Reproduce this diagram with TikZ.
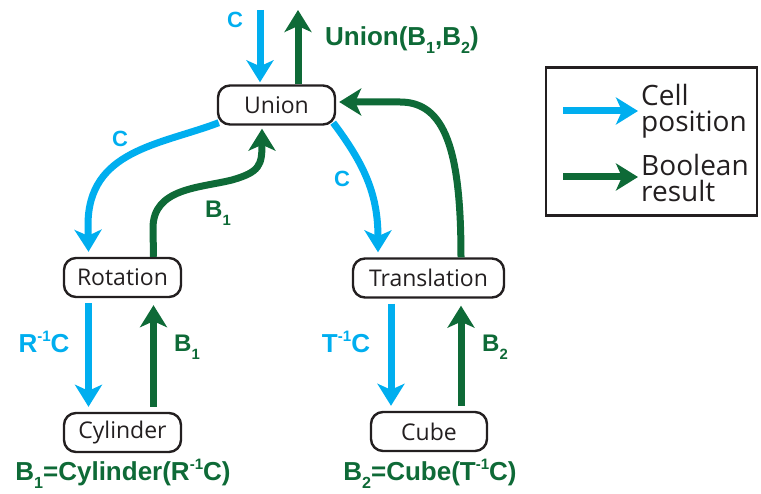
\documentclass[tikz,border=0pt]{standalone}
\usepackage{fontspec}
\setmainfont{Liberation Sans}
\newfontfamily\nodefont{Open Sans}
\usetikzlibrary{arrows.meta}
\definecolor{cellblue}{HTML}{00AEEF}
\definecolor{boolgreen}{HTML}{0E6A37}
\definecolor{ink}{HTML}{231F20}
\newcommand{\lowidx}[1]{\raisebox{-0.32em}{\scalebox{0.62}{#1}}}
\newcommand{\highidx}[1]{\raisebox{0.42em}{\scalebox{0.58}{#1}}}
\tikzset{
  box/.style={draw=ink, line width=2.4pt, rounded corners=12pt, minimum height=39pt, inner sep=0pt, text=ink, font=\nodefont\fontsize{23}{25}\selectfont},
  flow/.style={line width=7pt, -{Stealth[length=22pt,width=27pt,inset=6pt]}},
  cflow/.style={flow, draw=cellblue},
  bflow/.style={flow, draw=boolgreen},
  clabel/.style={text=cellblue, font=\bfseries\fontsize{22}{24}\selectfont, inner sep=0pt},
  blabel/.style={text=boolgreen, font=\bfseries\fontsize{24}{26}\selectfont, inner sep=0pt},
  biglabel/.style={font=\bfseries\fontsize{26}{28}\selectfont, inner sep=0pt},
  legtext/.style={text=ink, font=\nodefont\fontsize{28}{25.5}\selectfont, align=left, anchor=west, inner sep=0pt}
}
\begin{document}
\begin{tikzpicture}[x=1pt,y=-1pt]
\useasboundingbox (0,0) rectangle (761,494);
% nodes
\node[box, minimum width=117pt] (Union) at (276.5,105) {Union};
\node[box, minimum width=117pt] (Rotation) at (122.5,277.5) {Rotation};
\node[box, minimum width=151pt] (Translation) at (428.5,278) {Translation};
\node[box, minimum width=117pt] (Cylinder) at (122.5,432.5) {Cylinder};
\node[box, minimum width=116pt] (Cube) at (429,431.5) {Cube};
% top
\coordinate (topin) at (260,10);
\coordinate (topout) at (298,10);
\draw[cflow] (topin) -- ([yshift=2pt]Union.north -| topin);
\draw[bflow] (Union.north -| topout) -- (topout);
\node[clabel] (lc0) at (235,20) {C};
\node[biglabel, text=boolgreen] (lu) at (402,40) {Union(B\lowidx{1},B\lowidx{2})};
% Union -> Rotation
\draw[cflow] ([xshift=2pt,yshift=3pt]Union.south west) .. controls (160,145) and (88,150) .. (88,225) -- ([xshift=-34pt,yshift=5pt]Rotation.north);
\node[clabel] (lc1) at (120,139) {C};
% Rotation -> Union
\draw[bflow] ([xshift=31pt]Rotation.north) -- (153,228) .. controls (153,188) and (200,188) .. (232,180) .. controls (260,172) and (262,165) .. ([xshift=-14.5pt,yshift=-3pt]Union.south);
\node[blabel] (lb1) at (218,213) {B\lowidx{1}};
% Union -> Translation
\draw[cflow] ([xshift=-3pt,yshift=3pt]Union.south east) .. controls (365,165) and (378,195) .. ([xshift=-50.5pt,yshift=5pt]Translation.north);
\node[clabel] (lc2) at (342,179) {C};
% Translation -> Union
\draw[bflow] ([xshift=32.5pt]Translation.north) .. controls (461,150) and (445,102) .. (400,102) -- ([xshift=3pt,yshift=3pt]Union.east);
% Rotation <-> Cylinder
\draw[cflow] ([xshift=-34pt,yshift=-5pt]Rotation.south) -- ([xshift=-34pt,yshift=5pt]Cylinder.north);
\draw[bflow] ([xshift=31pt,yshift=5pt]Cylinder.north) -- ([xshift=31pt,yshift=-7pt]Rotation.south);
\node[biglabel, text=cellblue] (lr) at (44,342) {R\highidx{-1}C};
\node[blabel] (lb1b) at (187,347) {B\lowidx{1}};
% Translation <-> Cube
\draw[cflow] ([xshift=-37.5pt,yshift=-5pt]Translation.south) -- ([xshift=-38pt,yshift=5pt]Cube.north);
\draw[bflow] ([xshift=32pt,yshift=5pt]Cube.north) -- ([xshift=32.5pt,yshift=-7pt]Translation.south);
\node[biglabel, text=cellblue] (lt) at (346,342) {T\highidx{-1}C};
\node[blabel] (lb2) at (495,347) {B\lowidx{2}};
% bottom labels
\node[biglabel, text=boolgreen] (eq1) at (123,474) {B\lowidx{1}=Cylinder(R\highidx{-1}C)};
\node[biglabel, text=boolgreen] (eq2) at (430,474) {B\lowidx{2}=Cube(T\highidx{-1}C)};
% legend
\node[draw=ink, line width=2.4pt, minimum width=211pt, minimum height=148pt, inner sep=0pt] (legend) at (651.5,141.5) {};
\coordinate (lga) at (563,111);
\coordinate (lgb) at (638,111);
\coordinate (lgc) at (563,177);
\coordinate (lgd) at (638,177);
\draw[cflow] (lga) -- (lgb);
\draw[bflow] (lgc) -- (lgd);
\node[legtext] (lt1) at (641,111) {Cell\\position};
\node[legtext] (lt2) at (641,178) {Boolean\\result};
\end{tikzpicture}
\end{document}
